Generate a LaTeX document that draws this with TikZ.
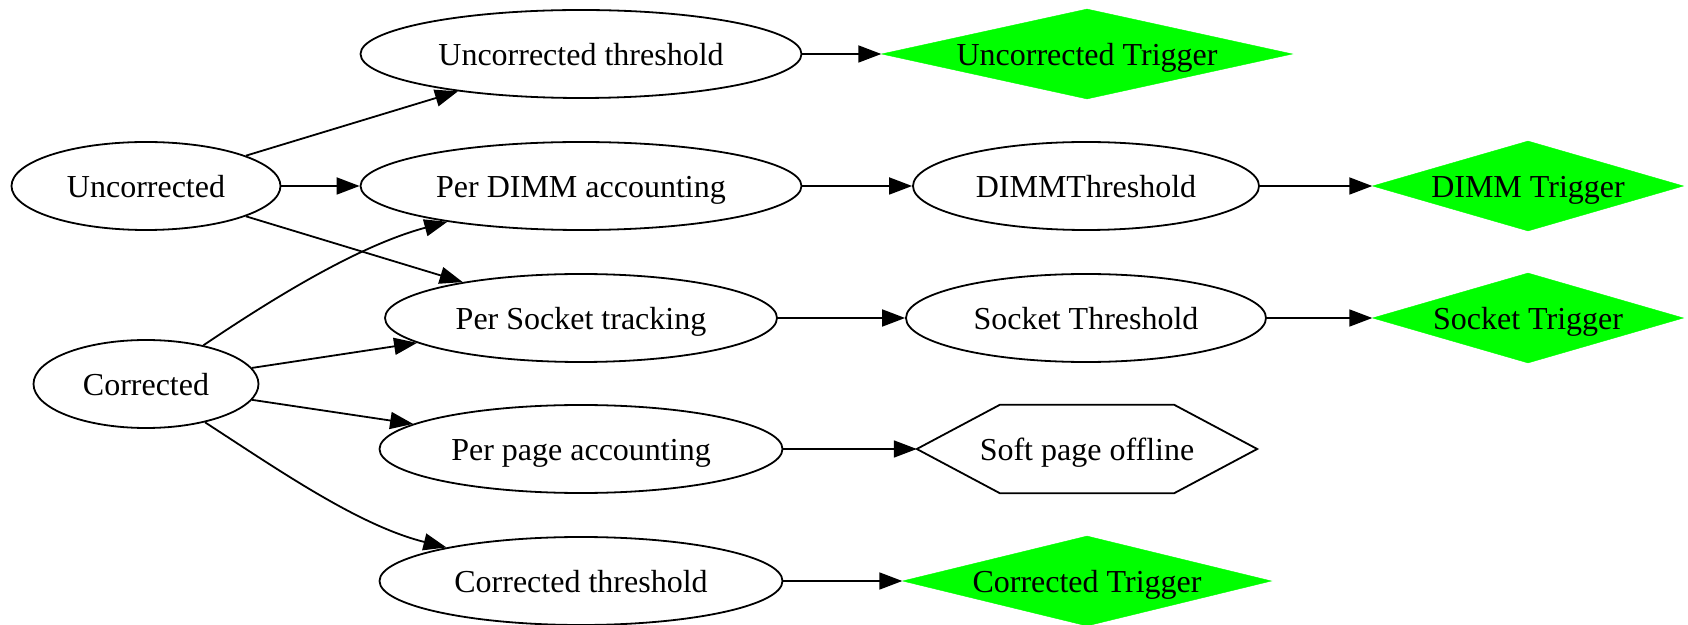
\documentclass[tikz,border=0pt]{standalone}
\usepackage{fontspec}
\setmainfont{Liberation Serif}
\usetikzlibrary{shapes.geometric,arrows.meta}
\begin{document}
\begin{tikzpicture}[x=1pt,y=1pt,
  every node/.style={font=\fontsize{32}{38}\selectfont, inner sep=0pt, text height=29pt, text depth=6pt},
  ell/.style={ellipse, draw, line width=1.8pt, minimum height=88pt},
  trig/.style={diamond, fill=green, draw=green, aspect=3.4, minimum height=90pt},
  hexa/.style={rectangle, minimum width=340pt, minimum height=88pt},
  conn/.style={line width=1.8pt, -{Triangle[length=23pt,width=17pt]}}
]
\useasboundingbox (0,0) rectangle (1688,624);
% nodes
\node[ell, minimum width=269pt] (U) at (146,438) {\makebox[0pt]{Uncorrected}};
\node[ell, minimum width=225pt] (C) at (146,240) {\makebox[0pt]{Corrected}};
\node[ell, minimum width=441pt] (UT) at (581,570) {\makebox[0pt]{Uncorrected threshold}};
\node[ell, minimum width=441pt] (PD) at (581,438) {\makebox[0pt]{Per DIMM accounting}};
\node[ell, minimum width=392pt] (PS) at (581,306) {\makebox[0pt]{Per Socket tracking}};
\node[ell, minimum width=403pt] (PP) at (581,175) {\makebox[0pt]{Per page accounting}};
\node[ell, minimum width=403pt] (CT) at (581,43) {\makebox[0pt]{Corrected threshold}};
\node[trig, minimum width=411pt] (UTrig) at (1087,570) {\makebox[0pt]{Uncorrected Trigger}};
\node[ell, minimum width=346pt] (DT) at (1086,438) {\makebox[0pt]{DIMMThreshold}};
\node[ell, minimum width=360pt] (ST) at (1086,306) {\makebox[0pt]{Socket Threshold}};
\node[hexa] (SPO) at (1087,175) {\makebox[0pt]{Soft page offline}};
\draw[line width=1.8pt] (SPO.west) -- ([xshift=83pt]SPO.north west) -- ([xshift=-83pt]SPO.north east)
  -- (SPO.east) -- ([xshift=-83pt]SPO.south east) -- ([xshift=83pt]SPO.south west) -- cycle;
\node[trig, minimum width=369pt] (CTrig) at (1087,43) {\makebox[0pt]{Corrected Trigger}};
\node[trig, minimum width=311pt] (DTrig) at (1528,438) {\makebox[0pt]{DIMM Trigger}};
\node[trig, minimum width=311pt] (STrig) at (1528,306) {\makebox[0pt]{Socket Trigger}};
% connectors
\draw[conn] (U) -- (UT);
\draw[conn] (U) -- (PD);
\draw[conn] (U) -- (PS);
\draw[conn] (C.34) .. controls +(34:90) and +(195:90) .. (PD.195);
\draw[conn] (C) -- (PS);
\draw[conn] (C) -- (PP);
\draw[conn] (C.-33) .. controls +(-33:90) and +(166:90) .. (CT.166);
\draw[conn] (UT) -- (UTrig.west);
\draw[conn] (PD) -- (DT);
\draw[conn] (DT) -- (DTrig.west);
\draw[conn] (PS) -- (ST);
\draw[conn] (ST) -- (STrig.west);
\draw[conn] (PP) -- (SPO.west);
\draw[conn] (CT) -- (CTrig.west);
\end{tikzpicture}
\end{document}
